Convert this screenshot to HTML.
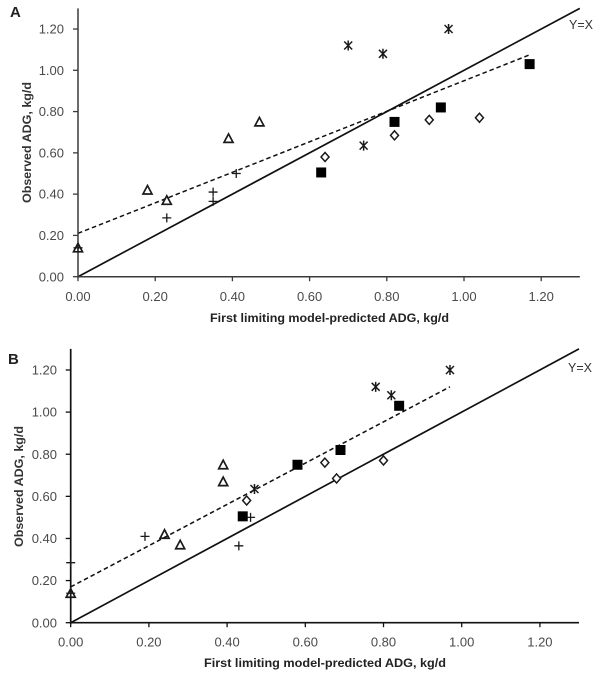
<!DOCTYPE html>
<html lang="en">
<head>
<meta charset="utf-8">
<title>Observed vs predicted ADG</title>
<style>
html,body{margin:0;padding:0;background:#fff;}
#chart{display:block;filter:blur(0.35px);}
text{font-family:"Liberation Sans",sans-serif;}
</style>
</head>
<body>
<svg id="chart" xmlns="http://www.w3.org/2000/svg" width="603" height="677" viewBox="0 0 603 677"></svg>
<script>
// Shared axis ticks
const tickValues = [0, 0.2, 0.4, 0.6, 0.8, 1.0, 1.2];
const tickLabels = ["0.00", "0.20", "0.40", "0.60", "0.80", "1.00", "1.20"];
const axisMax = [1.3];
const identityLine = [0, 1.3];

// Panel A series: x = predicted, y = observed
const aTriangleX = [0, 0.18, 0.23, 0.39, 0.47];
const aTriangleY = [0.14, 0.42, 0.37, 0.67, 0.75];
const aPlusX = [0, 0.23, 0.35, 0.35, 0.41];
const aPlusY = [0.14, 0.285, 0.41, 0.365, 0.50];
const aStarX = [0.70, 0.74, 0.79, 0.96];
const aStarY = [1.12, 0.635, 1.08, 1.20];
const aSquareX = [0.63, 0.82, 0.94, 1.17];
const aSquareY = [0.505, 0.75, 0.82, 1.03];
const aDiamondX = [0.64, 0.82, 0.91, 1.04];
const aDiamondY = [0.58, 0.685, 0.76, 0.77];
const aTrendX = [0, 1.17];
const aTrendY = [0.21, 1.075];

// Panel B series
const bTriangleX = [0, 0.24, 0.28, 0.39, 0.39];
const bTriangleY = [0.14, 0.42, 0.37, 0.67, 0.75];
const bPlusX = [0, 0, 0.19, 0.43, 0.46];
const bPlusY = [0.14, 0.285, 0.41, 0.365, 0.50];
const bStarX = [0.47, 0.78, 0.82, 0.97];
const bStarY = [0.635, 1.12, 1.08, 1.20];
const bSquareX = [0.44, 0.58, 0.69, 0.84];
const bSquareY = [0.505, 0.75, 0.82, 1.03];
const bDiamondX = [0.45, 0.65, 0.68, 0.80];
const bDiamondY = [0.58, 0.76, 0.685, 0.77];
const bTrendX = [0, 0.97];
const bTrendY = [0.17, 1.12];

const NS = "http://www.w3.org/2000/svg";
const root = document.getElementById("chart");
const INK = "#1a1a1a";

function make(parent, tag, attrs) {
  const el = document.createElementNS(NS, tag);
  for (const k in attrs) el.setAttribute(k, attrs[k]);
  parent.appendChild(el);
  return el;
}

function drawMarker(g, kind, px, py) {
  let el;
  if (kind === "triangle") {
    el = make(g, "polygon", {
      points: (px - 4.5) + "," + (py + 4) + " " + px + "," + (py - 4.5) + " " + (px + 4.5) + "," + (py + 4),
      fill: "none", stroke: INK, "stroke-width": 1.7
    });
  } else if (kind === "diamond") {
    el = make(g, "polygon", {
      points: px + "," + (py - 4.5) + " " + (px + 4) + "," + py + " " + px + "," + (py + 4.5) + " " + (px - 4) + "," + py,
      fill: "#fff", stroke: INK, "stroke-width": 1.5
    });
  } else if (kind === "square") {
    el = make(g, "rect", { x: px - 5, y: py - 5, width: 10, height: 10, fill: "#000" });
  } else if (kind === "plus") {
    el = make(g, "path", {
      d: "M" + (px - 4.5) + " " + py + "H" + (px + 4.5) + "M" + px + " " + (py - 4.5) + "V" + (py + 4.5),
      fill: "none", stroke: INK, "stroke-width": 1.3
    });
  } else {
    el = make(g, "path", {
      d: "M" + (px - 4) + " " + (py - 4) + "L" + (px + 4) + " " + (py + 4) +
         "M" + (px + 4) + " " + (py - 4) + "L" + (px - 4) + " " + (py + 4) +
         "M" + px + " " + (py - 5) + "V" + (py + 5),
      fill: "none", stroke: INK, "stroke-width": 1.5
    });
  }
  return el;
}

function drawPanel(p) {
  const g = make(root, "g", {});
  
  
  const sx = function (v) { return p.x0 + v * p.xUnit; };
  const sy = function (v) { return p.y0 - v * p.yUnit; };

  // Reference and trend lines first
  const identity = make(g, "line", {
    x1: sx(identityLine[0]), y1: sy(identityLine[0]),
    x2: sx(identityLine[1]), y2: sy(identityLine[1]),
    stroke: "#111", "stroke-width": 1.7
  });
  
  

  const trend = make(g, "line", {
    x1: sx(p.trendX[0]), y1: sy(p.trendY[0]),
    x2: sx(p.trendX[1]), y2: sy(p.trendY[1]),
    stroke: "#111", "stroke-width": 1.5, "stroke-dasharray": "4.5 3"
  });
  
  

  // Axes
  const xAxis = make(g, "line", {
    x1: sx(0), y1: sy(0), x2: sx(axisMax[0]), y2: sy(0),
    stroke: p.axisColor, "stroke-width": p.axisWidth
  });
  
  

  const yAxis = make(g, "line", {
    x1: sx(0), y1: sy(0) + 1, x2: sx(0), y2: sy(axisMax[0]),
    stroke: p.axisColor, "stroke-width": p.axisWidth
  });
  
  

  tickValues.forEach(function (v, i) {
    const xt = make(g, "line", {
      x1: sx(v), y1: sy(0), x2: sx(v), y2: sy(0) + 4.5,
      stroke: p.axisColor, "stroke-width": 1.3
    });
    
    

    const yt = make(g, "line", {
      x1: sx(0) - 5, y1: sy(v), x2: sx(0), y2: sy(v),
      stroke: p.axisColor, "stroke-width": 1.3
    });
    
    

    const xl = make(g, "text", {
      x: sx(v), y: p.xLabelY, "text-anchor": "middle",
      "font-size": 13, fill: "#4a4a4a"
    });
    xl.textContent = tickLabels[i];
    
    

    const yl = make(g, "text", {
      x: p.yLabelX, y: sy(v) + 4.6, "text-anchor": "end",
      "font-size": 13, fill: "#4a4a4a"
    });
    yl.textContent = tickLabels[i];
    
    
  });

  // Series
  p.series.forEach(function (s) {
    const sg = make(g, "g", {});
    
    
    s.xs.forEach(function (xv, i) {
      const m = drawMarker(sg, s.kind, sx(xv), sy(s.ys[i]));
      
      
    });
  });

  // Text labels
  const panelLabel = make(g, "text", {
    x: p.letterX, y: p.letterY, "font-size": 15, "font-weight": "bold", fill: "#222"
  });
  panelLabel.textContent = p.letter;
  
  

  const eq = make(g, "text", {
    x: p.eqX, y: p.eqY, "font-size": 12.5, fill: "#333",
    textLength: 24, lengthAdjust: "spacingAndGlyphs"
  });
  eq.textContent = "Y=X";
  
  

  const xTitle = make(g, "text", {
    x: p.xTitleX, y: p.xTitleY, "font-size": 11.5, "font-weight": "bold", fill: "#222",
    textLength: p.xTitleLen, lengthAdjust: "spacingAndGlyphs"
  });
  xTitle.textContent = "First limiting model-predicted ADG, kg/d";
  
  

  const yTitle = make(g, "text", {
    transform: "translate(" + p.yTitleX + " " + p.yTitleY + ") rotate(-90)",
    "font-size": 12, "font-weight": "bold", fill: "#333",
    textLength: 121, lengthAdjust: "spacingAndGlyphs"
  });
  yTitle.textContent = "Observed ADG, kg/d";
  
  
}

drawPanel({
  name: "panel-a", letter: "A",
  x0: 78, xUnit: 386, y0: 276.7, yUnit: 206.4,
  axisColor: "#3a3a3a", axisWidth: 1.5,
  xLabelY: 301, yLabelX: 64,
  letterX: 10, letterY: 17,
  eqX: 569, eqY: 29,
  xTitleX: 210, xTitleY: 322, xTitleLen: 239,
  yTitleX: 31, yTitleY: 203,
  trendX: aTrendX, trendY: aTrendY,
  series: [
    { kind: "triangle", xs: aTriangleX, ys: aTriangleY },
    { kind: "plus", xs: aPlusX, ys: aPlusY },
    { kind: "star", xs: aStarX, ys: aStarY },
    { kind: "square", xs: aSquareX, ys: aSquareY },
    { kind: "diamond", xs: aDiamondX, ys: aDiamondY }
  ]
});

drawPanel({
  name: "panel-b", letter: "B",
  x0: 70.7, xUnit: 391, y0: 622.7, yUnit: 210.6,
  axisColor: "#111", axisWidth: 1.7,
  xLabelY: 646.5, yLabelX: 57,
  letterX: 8, letterY: 364,
  eqX: 568, eqY: 372,
  xTitleX: 204, xTitleY: 667, xTitleLen: 242,
  yTitleX: 23, yTitleY: 547,
  trendX: bTrendX, trendY: bTrendY,
  series: [
    { kind: "triangle", xs: bTriangleX, ys: bTriangleY },
    { kind: "plus", xs: bPlusX, ys: bPlusY },
    { kind: "star", xs: bStarX, ys: bStarY },
    { kind: "square", xs: bSquareX, ys: bSquareY },
    { kind: "diamond", xs: bDiamondX, ys: bDiamondY }
  ]
});
</script>
</body>
</html>
